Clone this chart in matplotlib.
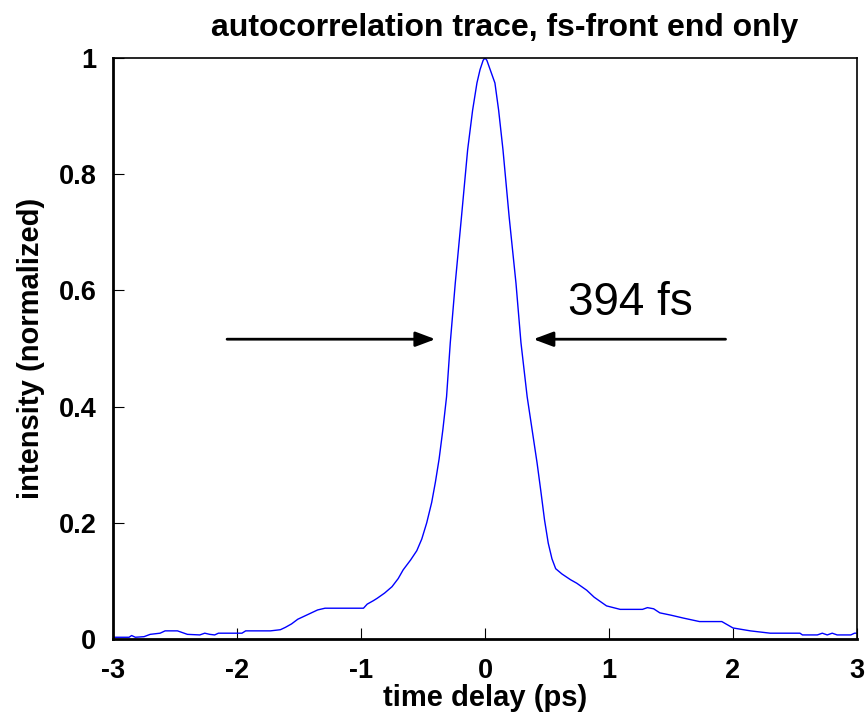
import matplotlib
matplotlib.use("Agg")
import matplotlib.pyplot as plt

delay_ps = [-3.00, -2.87, -2.85, -2.82, -2.75, -2.70, -2.62, -2.58, -2.48, -2.40,
            -2.30, -2.26, -2.22, -2.18, -2.15, -1.96, -1.93, -1.73, -1.65, -1.61,
            -1.56, -1.51, -1.45, -1.40, -1.35, -1.29, -0.98, -0.95, -0.90, -0.87,
            -0.81, -0.75, -0.70, -0.66, -0.60, -0.55, -0.51, -0.47, -0.43, -0.40,
            -0.37, -0.34, -0.31, -0.28, -0.24, -0.19, -0.14, -0.10, -0.065, -0.04,
            -0.015, 0.0, 0.015, 0.045, 0.08, 0.11, 0.145, 0.195, 0.25, 0.29,
            0.34, 0.38, 0.42, 0.45, 0.48, 0.51, 0.54, 0.57, 0.62, 0.69,
            0.74, 0.82, 0.88, 0.98, 1.09, 1.27, 1.31, 1.36, 1.41, 1.50,
            1.60, 1.73, 1.91, 2.00, 2.14, 2.30, 2.54, 2.56, 2.68, 2.72,
            2.76, 2.80, 2.84, 2.95, 2.98, 3.00]
intensity = [0.003, 0.003, 0.006, 0.003, 0.004, 0.008, 0.010, 0.014, 0.014, 0.008,
             0.007, 0.010, 0.008, 0.007, 0.010, 0.010, 0.014, 0.014, 0.016, 0.020,
             0.026, 0.034, 0.040, 0.045, 0.050, 0.053, 0.053, 0.060, 0.066, 0.070,
             0.079, 0.090, 0.104, 0.119, 0.136, 0.152, 0.172, 0.200, 0.235, 0.270,
             0.310, 0.360, 0.417, 0.510, 0.612, 0.726, 0.842, 0.910, 0.957, 0.980,
             0.996, 1.000, 0.996, 0.978, 0.957, 0.910, 0.842, 0.726, 0.612, 0.510,
             0.417, 0.360, 0.303, 0.255, 0.205, 0.165, 0.138, 0.121, 0.112, 0.102,
             0.096, 0.084, 0.072, 0.057, 0.051, 0.051, 0.054, 0.052, 0.045, 0.041,
             0.036, 0.030, 0.030, 0.019, 0.014, 0.010, 0.010, 0.007, 0.007, 0.010,
             0.007, 0.010, 0.007, 0.007, 0.010, 0.010]

x_ticks = [-3, -2, -1, 0, 1, 2, 3]
y_ticks = [0, 0.2, 0.4, 0.6, 0.8, 1]
y_ticklabels = ["0", "0.2", "0.4", "0.6", "0.8", "1"]

title = "autocorrelation trace, fs-front end only"
xlabel = "time delay (ps)"
ylabel = "intensity (normalized)"
annotation = "394 fs"

plt.rcParams['font.family'] = ['Liberation Sans', 'DejaVu Sans']
plt.rcParams['axes.unicode_minus'] = False

fig = plt.figure(figsize=(8.65, 7.18), dpi=100)
ax = fig.add_axes([113/865, 1 - 639/718, (857-113)/865, (639-58)/718])
ax.plot(delay_ps, intensity, color='#0000ff', lw=1.0)
ax.set_xlim(-3, 3)
ax.set_ylim(0, 1)
ax.set_xticks(x_ticks)
ax.set_yticks(y_ticks)
ax.set_yticklabels(y_ticklabels)
ax.tick_params(direction='in', length=8, width=0.8, labelsize=19.5, top=False, right=False)
ax.tick_params(axis='y', pad=12)
ax.tick_params(axis='x', pad=14)
for lbl in ax.get_xticklabels() + ax.get_yticklabels():
    lbl.set_fontweight('bold')
for s in ax.spines.values():
    s.set_linewidth(1.2)
ax.spines['left'].set_linewidth(2)
ax.spines['bottom'].set_linewidth(2)
ax.set_title(title, fontsize=23, fontweight='bold', pad=16, x=0.526)
ax.set_xlabel(xlabel, fontsize=21, fontweight='bold', labelpad=0)
ax.set_ylabel(ylabel, fontsize=21, fontweight='bold', labelpad=10)

ax.annotate("", xy=(-0.40, 0.516), xytext=(-2.08, 0.516),
            arrowprops=dict(arrowstyle='-|>,head_length=1.2,head_width=0.45', color='black', lw=2, shrinkA=0, shrinkB=0))
ax.annotate("", xy=(0.39, 0.516), xytext=(1.94, 0.516),
            arrowprops=dict(arrowstyle='-|>,head_length=1.2,head_width=0.45', color='black', lw=2, shrinkA=0, shrinkB=0))
ax.text(0.67, 0.558, annotation, fontsize=33, ha='left', va='baseline')

fig.savefig("out.png", dpi=100)
